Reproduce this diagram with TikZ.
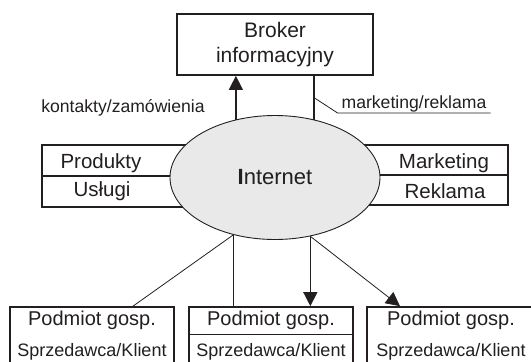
\documentclass[tikz,border=0pt]{standalone}
\usepackage{fontspec}
\setmainfont{Liberation Sans}
\usetikzlibrary{shapes.geometric,arrows.meta,positioning}
\definecolor{ink}{HTML}{231F20}
\definecolor{netgray}{HTML}{E9E9E9}

\begin{document}
\begin{tikzpicture}[x=1pt,y=-1pt,
        frame/.style = {draw=ink, line width=1.7pt, fill=white, inner sep=0pt},
        txt/.style = {text=ink, inner sep=0pt, font=\fontsize{20.5}{24}\selectfont},
        small/.style = {text=ink, inner sep=0pt, font=\fontsize{18}{21}\selectfont},
        lbl/.style = {text=ink, inner xsep=4pt, inner ysep=1pt, font=\fontsize{17.6}{20}\selectfont},
        wire/.style = {draw=ink, line width=1.3pt},
        thinwire/.style = {draw=ink, line width=0.8pt},
        tip/.style = {-{Triangle[length=14pt,width=14pt]}}
    ]
    \useasboundingbox (0,0) rectangle (531,362);

    % broker
    \node[frame, minimum width=196pt, minimum height=61pt, align=center,
          text=ink, font=\fontsize{21}{25}\selectfont] (broker) at (275,44.5) {Broker\\informacyjny};

    % side panels
    \node[frame, minimum width=160pt, minimum height=62pt] (left) at (122,176) {};
    \node[frame, minimum width=160pt, minimum height=60pt] (right) at (428,175) {};
    \draw[ink, line width=1.2pt] (left.west) -- (left.east);
    \draw[ink, line width=1.2pt] (right.west) -- (right.east);

    % internet
    \node[ellipse, draw=ink, line width=0.9pt, fill=netgray, inner sep=0pt,
          minimum width=210pt, minimum height=124pt, text=ink,
          font=\fontsize{22}{26}\selectfont] (net) at (275,177.5) {\textbf{I}nternet};

    \node[txt] (prod) at (101,163) {Produkty};
    \node[txt] (usl) at (102,191) {Usługi};
    \node[txt] (mark) at (444,163) {Marketing};
    \node[txt] (rekl) at (445,191) {Reklama};

    % labels
    \node[lbl] (order) at (123,108) {kontakty/zamówienia};
    \node[lbl] (mkt) at (414,103.5) {marketing/reklama};

    % podmioty
    \node[frame, minimum width=164pt, minimum height=70pt] (pod1) at (92,342) {};
    \node[frame, minimum width=164pt, minimum height=70pt] (pod2) at (271,342) {};
    \node[frame, minimum width=170pt, minimum height=70pt] (pod3) at (452,342) {};
    \draw[ink, line width=1.2pt] ([yshift=-28pt]pod2.north west) -- ([yshift=-28pt]pod2.north east);

    \node[txt, font=\fontsize{20}{24}\selectfont] (p1a) at (92,320) {Podmiot gosp.};
    \node[small] (p1b) at (92,351.5) {Sprzedawca/Klient};
    \node[txt, font=\fontsize{20}{24}\selectfont] (p2a) at (271,320) {Podmiot gosp.};
    \node[small] (p2b) at (271,351.5) {Sprzedawca/Klient};
    \node[txt, font=\fontsize{20}{24}\selectfont] (p3a) at (451,320) {Podmiot gosp.};
    \node[small] (p3b) at (451,351.5) {Sprzedawca/Klient};

    % connectors
    \draw[wire, tip] (net.124) -- (net.124 |- broker.south);
    \draw[wire] (net.56.7) -- coordinate[pos=0.5] (tap) (net.56.7 |- broker.south);
    \draw[thinwire] (tap) -- (mkt.south west) -- (mkt.south east);

    \draw[thinwire] (net.-126.5) -- ([xshift=41pt]pod1.north);
    \draw[wire] (net.-126.5) -- (net.-126.5 |- pod2.north);
    \draw[wire, tip] (net.-59.9) -- (net.-59.9 |- pod2.north);
    \draw[thinwire, tip] (net.-59.9) -- ([xshift=-52pt]pod3.north);
\end{tikzpicture}
\end{document}
